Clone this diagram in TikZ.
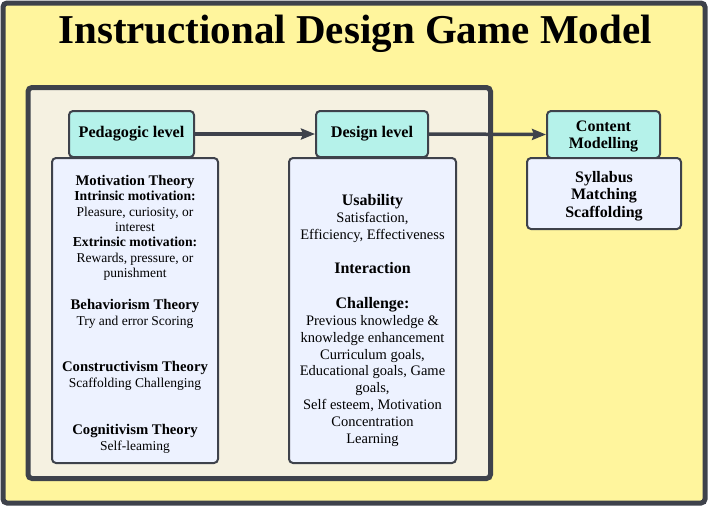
\documentclass[tikz,border=0pt]{standalone}
\usepackage{fontspec}
\setmainfont{Liberation Serif}
\usetikzlibrary{arrows.meta}
\definecolor{outerfill}{HTML}{FFF59D}
\definecolor{innerfill}{HTML}{F5F1E1}
\definecolor{tealfill}{HTML}{B5F2EA}
\definecolor{bluefill}{HTML}{EDF2FF}
\definecolor{edge}{HTML}{3E424B}
\newcommand\hdA{\fontsize{14.7}{15.3}\selectfont\bfseries}
\newcommand\shA{\fontsize{13.7}{15.3}\selectfont\bfseries}
\newcommand\hdB{\fontsize{16}{16.8}\selectfont\bfseries}
\tikzset{
  bigframe/.style={draw=edge, line width=5pt, rounded corners=4pt, inner sep=0pt},
  levelbox/.style={draw=edge, fill=tealfill, line width=2pt, rounded corners=4pt, inner sep=0pt,
    align=center, font=\fontsize{16.2}{17.5}\selectfont\bfseries},
  contentbox/.style={draw=edge, fill=bluefill, line width=2pt, rounded corners=4pt, inner sep=0pt},
  txtA/.style={inner sep=0pt, align=center, anchor=base, font=\fontsize{13.5}{15.3}\selectfont},
  txtB/.style={inner sep=0pt, align=center, anchor=base, font=\fontsize{14.5}{16.8}\selectfont},
  txtC/.style={inner sep=0pt, align=center, anchor=base, font=\fontsize{16}{17.5}\selectfont\bfseries},
  conn/.style={draw=edge, line width=3.5pt, -{Stealth[length=14pt,width=11pt,inset=2pt]}}
}
\begin{document}
\begin{tikzpicture}[x=1pt,y=-1pt]
\useasboundingbox (0,0) rectangle (708,507);
\node[bigframe, fill=outerfill, minimum width=702pt, minimum height=500pt] (outer) at (354,253) {};
\node[inner sep=0pt, anchor=base, font=\fontsize{41}{45}\selectfont\bfseries] (title) at (355,43) {Instructional Design Game Model};
\node[bigframe, fill=innerfill, minimum width=462.5pt, minimum height=391pt] (inner) at (259.25,283) {};

% level nodes
\node[levelbox, minimum width=125pt, minimum height=46pt] (ped) at (131.5,134) {Pedagogic level};
\node[levelbox, minimum width=112pt, minimum height=46pt] (des) at (372,134) {Design level};
\node[levelbox, minimum width=113pt, minimum height=47pt] (cm) at (603.5,134.5) {};
\node[txtC] (cmtxt) at (603.5,148.5) {Content\\Modelling};

% content boxes
\node[contentbox, minimum width=166pt, minimum height=305pt] (pedbox) at (135,310.5) {};
\node[contentbox, minimum width=167pt, minimum height=305pt] (desbox) at (372.5,310.5) {};
\node[contentbox, minimum width=154pt, minimum height=71pt] (cmbox) at (604,193.5) {};

% arrows
\draw[conn] (ped.east) -- (des.west);
\draw[conn] (des.east) -- (cm.west);

% pedagogic text (anchor = baseline of last line)
\node[txtA] (motiv) at (135,277.3) {{\hdA Motivation Theory}\\{\shA Intrinsic motivation:}\\Pleasure, curiosity, or\\interest\\{\shA Extrinsic motivation:}\\Rewards, pressure, or\\punishment};
\node[txtA, font=\fontsize{13.5}{16}\selectfont] (behav) at (135,325.5) {{\hdA Behaviorism Theory}\\Try and error Scoring};
\node[txtA, font=\fontsize{13.5}{16}\selectfont] (constr) at (135,387.5) {{\hdA Constructivism Theory}\\Scaffolding Challenging};
\node[txtA, font=\fontsize{13.5}{16}\selectfont] (cognit) at (135,450.5) {{\hdA Cognitivism Theory}\\Self-leaming};

% design text
\node[txtB, font=\fontsize{14.5}{17}\selectfont] (usab) at (372.5,239) {{\hdB Usability}\\Satisfaction,\\Efficiency, Effectiveness};
\node[txtB] (inter) at (372.5,273) {{\hdB Interaction}};
\node[txtB, font=\fontsize{14.5}{16.9}\selectfont] (chall) at (372.5,443.5) {{\hdB Challenge:}\\Previous knowledge \&\\knowledge enhancement\\Curriculum goals,\\Educational goals, Game\\goals,\\Self esteem, Motivation\\Concentration\\Learning};

% content modelling text
\node[txtC] (cmlist) at (604,217) {Syllabus\\Matching\\Scaffolding};
\end{tikzpicture}
\end{document}
